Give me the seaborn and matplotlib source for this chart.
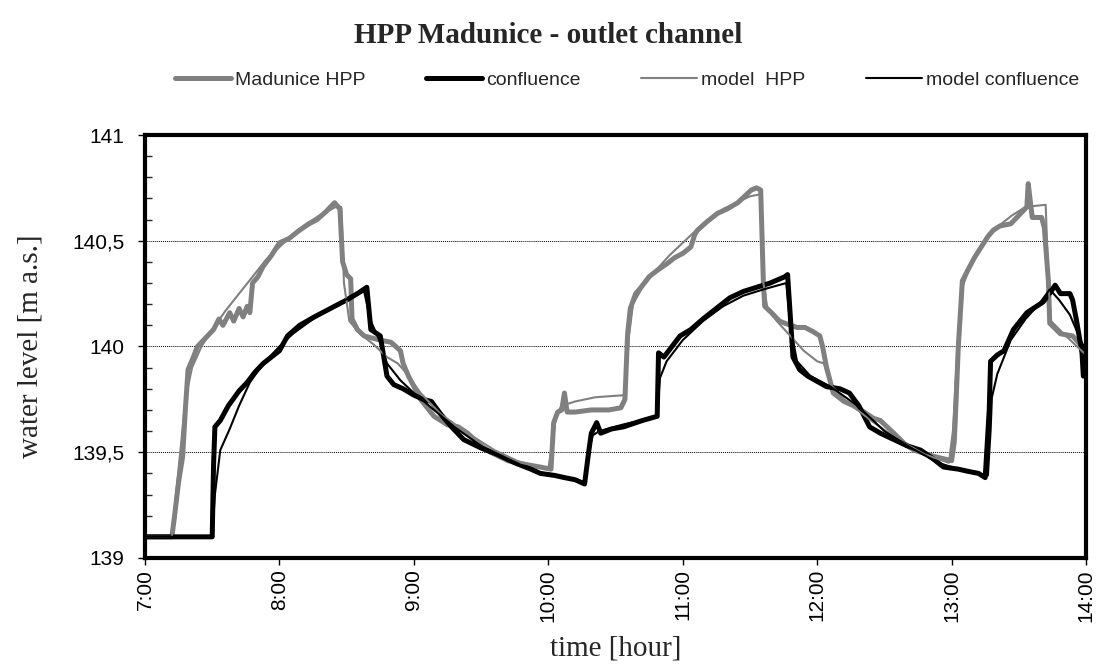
import numpy as np
import pandas as pd
import matplotlib
matplotlib.use("Agg")
import matplotlib.pyplot as plt
import seaborn as sns
from matplotlib.ticker import FuncFormatter, MultipleLocator

# ---------------- data (hours, m a.s.) ----------------
hpp_t = [7.00, 7.20, 7.22, 7.25, 7.28, 7.30, 7.32, 7.36, 7.39, 7.45, 7.51, 7.55, 7.58, 7.63, 7.66, 7.70,
         7.73, 7.76, 7.78, 7.80, 7.84, 7.88, 7.94, 8.00, 8.07, 8.15, 8.22, 8.28, 8.35, 8.41, 8.45, 8.47,
         8.50, 8.53, 8.54, 8.58, 8.63, 8.75, 8.83, 8.90, 8.92, 8.96, 9.05, 9.15, 9.25, 9.33, 9.40, 9.50,
         9.57, 9.70, 9.85, 9.94, 10.02, 10.04, 10.07, 10.10, 10.12, 10.14, 10.20, 10.32, 10.45, 10.54,
         10.57, 10.59, 10.61, 10.65, 10.69, 10.75, 10.81, 10.88, 10.94, 11.00, 11.06, 11.09, 11.11, 11.18,
         11.26, 11.33, 11.41, 11.46, 11.51, 11.55, 11.58, 11.60, 11.61, 11.66, 11.72, 11.76, 11.85, 11.91,
         11.97, 12.02, 12.04, 12.07, 12.12, 12.20, 12.27, 12.35, 12.42, 12.47, 12.57, 12.65, 12.72, 12.87,
         13.00, 13.02, 13.03, 13.05, 13.08, 13.12, 13.17, 13.22, 13.27, 13.31, 13.36, 13.44, 13.50, 13.56,
         13.57, 13.60, 13.67, 13.69, 13.72, 13.73, 13.81, 13.90, 14.00]
hpp_v = [139.10, 139.10, 139.20, 139.36, 139.48, 139.70, 139.89, 139.95, 140.00, 140.04, 140.08, 140.13,
         140.10, 140.16, 140.12, 140.18, 140.14, 140.19, 140.16, 140.30, 140.33, 140.38, 140.43, 140.49,
         140.51, 140.55, 140.58, 140.60, 140.64, 140.68, 140.65, 140.40, 140.34, 140.32, 140.13, 140.08,
         140.05, 140.03, 140.02, 139.98, 139.92, 139.86, 139.75, 139.67, 139.63, 139.62, 139.59, 139.53,
         139.50, 139.46, 139.44, 139.43, 139.42, 139.64, 139.69, 139.70, 139.78, 139.69, 139.69, 139.70,
         139.70, 139.71, 139.75, 140.06, 140.18, 140.25, 140.28, 140.33, 140.36, 140.39, 140.42, 140.44,
         140.47, 140.53, 140.55, 140.59, 140.63, 140.65, 140.68, 140.71, 140.74, 140.75, 140.74, 140.30,
         140.19, 140.16, 140.12, 140.11, 140.09, 140.09, 140.07, 140.05, 140.00, 139.90, 139.78, 139.74,
         139.72, 139.69, 139.66, 139.65, 139.59, 139.54, 139.51, 139.48, 139.46, 139.55, 139.69, 140.00,
         140.31, 140.36, 140.42, 140.47, 140.52, 140.55, 140.57, 140.58, 140.62, 140.66, 140.77, 140.61,
         140.61, 140.56, 140.31, 140.11, 140.06, 140.05, 139.98]

conf_t = [7.00, 7.50, 7.51, 7.52, 7.56, 7.62, 7.70, 7.76, 7.82, 7.88, 7.94, 8.00, 8.06, 8.15, 8.26, 8.38,
          8.50, 8.58, 8.65, 8.68, 8.75, 8.80, 8.85, 8.92, 9.00, 9.07, 9.13, 9.20, 9.28, 9.37, 9.50, 9.62,
          9.75, 9.87, 9.94, 10.05, 10.12, 10.20, 10.27, 10.30, 10.32, 10.36, 10.39, 10.47, 10.56, 10.70,
          10.81, 10.82, 10.86, 10.98, 11.06, 11.15, 11.25, 11.35, 11.45, 11.55, 11.65, 11.76, 11.78, 11.82,
          11.87, 11.93, 12.07, 12.17, 12.24, 12.31, 12.39, 12.47, 12.57, 12.67, 12.77, 12.86, 12.94, 13.05,
          13.12, 13.20, 13.25, 13.28, 13.29, 13.34, 13.39, 13.46, 13.56, 13.68, 13.74, 13.77, 13.81, 13.88,
          13.90, 13.93, 13.97, 13.98]
conf_v = [139.10, 139.10, 139.44, 139.62, 139.65, 139.72, 139.79, 139.83, 139.88, 139.92, 139.95, 139.98,
          140.05, 140.10, 140.14, 140.18, 140.22, 140.25, 140.28, 140.08, 140.05, 139.86, 139.82, 139.80,
          139.77, 139.75, 139.74, 139.68, 139.62, 139.56, 139.52, 139.49, 139.45, 139.42, 139.40, 139.39,
          139.38, 139.37, 139.35, 139.50, 139.59, 139.64, 139.59, 139.61, 139.62, 139.65, 139.67, 139.97,
          139.95, 140.05, 140.08, 140.13, 140.18, 140.23, 140.26, 140.28, 140.30, 140.33, 140.34, 139.95,
          139.89, 139.86, 139.81, 139.80, 139.78, 139.72, 139.62, 139.59, 139.56, 139.53, 139.51, 139.47,
          139.43, 139.42, 139.41, 139.40, 139.38, 139.70, 139.93, 139.96, 139.98, 140.08, 140.16, 140.21,
          140.26, 140.29, 140.25, 140.25, 140.22, 140.12, 139.97, 139.86]

mhpp_t = [7.00, 7.20, 7.23, 7.27, 7.30, 7.35, 7.42, 7.50, 7.60, 7.70, 7.80, 7.90, 8.00, 8.10, 8.20, 8.30,
          8.42, 8.46, 8.48, 8.52, 8.60, 8.70, 8.80, 8.88, 8.95, 9.05, 9.20, 9.40, 9.60, 9.80, 10.00, 10.03,
          10.06, 10.10, 10.20, 10.35, 10.57, 10.60, 10.63, 10.70, 10.80, 10.90, 11.00, 11.10, 11.20, 11.30,
          11.40, 11.50, 11.58, 11.60, 11.63, 11.70, 11.80, 11.90, 12.00, 12.05, 12.10, 12.20, 12.40, 12.60,
          12.80, 12.98, 13.01, 13.04, 13.08, 13.15, 13.25, 13.35, 13.45, 13.55, 13.70, 13.72, 13.74, 13.85,
          14.00]
mhpp_v = [139.10, 139.10, 139.30, 139.55, 139.75, 139.90, 140.00, 140.08, 140.17, 140.25, 140.33, 140.41,
          140.47, 140.53, 140.58, 140.62, 140.66, 140.66, 140.30, 140.12, 140.06, 140.01, 139.95, 139.92,
          139.87, 139.78, 139.68, 139.59, 139.51, 139.45, 139.42, 139.55, 139.68, 139.72, 139.74, 139.76,
          139.77, 140.05, 140.20, 140.28, 140.36, 140.43, 140.49, 140.55, 140.60, 140.65, 140.68, 140.71,
          140.72, 140.30, 140.18, 140.12, 140.05, 139.98, 139.93, 139.92, 139.82, 139.75, 139.65, 139.56,
          139.49, 139.45, 139.60, 139.95, 140.28, 140.40, 140.50, 140.57, 140.62, 140.66, 140.67, 140.30,
          140.12, 140.05, 139.96]

mconf_t = [7.00, 7.50, 7.52, 7.56, 7.63, 7.70, 7.78, 7.88, 8.00, 8.10, 8.25, 8.40, 8.55, 8.63, 8.68, 8.75,
           8.80, 8.90, 9.00, 9.15, 9.30, 9.50, 9.70, 9.90, 10.10, 10.27, 10.30, 10.33, 10.38, 10.55, 10.81,
           10.83, 10.88, 11.00, 11.15, 11.30, 11.45, 11.60, 11.77, 11.80, 11.85, 11.95, 12.10, 12.30, 12.50,
           12.70, 12.90, 13.10, 13.27, 13.29, 13.30, 13.34, 13.44, 13.55, 13.65, 13.73, 13.80, 13.88, 13.96,
           14.00]
mconf_v = [139.10, 139.10, 139.30, 139.51, 139.61, 139.72, 139.83, 139.92, 140.00, 140.06, 140.13, 140.19,
           140.24, 140.26, 140.12, 140.02, 139.92, 139.84, 139.78, 139.70, 139.62, 139.53, 139.46, 139.41,
           139.38, 139.36, 139.50, 139.58, 139.60, 139.63, 139.67, 139.85, 139.93, 140.03, 140.12, 140.19,
           140.24, 140.27, 140.30, 140.10, 139.93, 139.86, 139.81, 139.72, 139.60, 139.52, 139.45, 139.41,
           139.39, 139.60, 139.76, 139.87, 140.03, 140.13, 140.20, 140.27, 140.22, 140.15, 140.03, 139.98]

series_names = ["Madunice HPP", "confluence", "model  HPP", "model confluence"]
x_ticks = [7, 8, 9, 10, 11, 12, 13, 14]
y_ticks = [139, 139.5, 140, 140.5, 141]

# ---------------- figure ----------------
sns.set_theme(style="white")
plt.rcParams["font.family"] = ["Liberation Sans", "DejaVu Sans"]

fig = plt.figure(figsize=(10.96, 6.70), dpi=100)
ax = fig.add_axes([0.1323, 0.1672, 0.8586, 0.6313])

styles = [
    (hpp_t, hpp_v, series_names[0], "#808080", 3.6),
    (conf_t, conf_v, series_names[1], "#000000", 3.6),
    (mhpp_t, mhpp_v, series_names[2], "#808080", 1.5),
    (mconf_t, mconf_v, series_names[3], "#000000", 1.5),
]
for t, v, name, col, lw in styles:
    df = pd.DataFrame({"time": t, "level": v})
    sns.lineplot(data=df, x="time", y="level", ax=ax, color=col, linewidth=lw,
                 label=name, sort=False, estimator=None, solid_joinstyle="round")

ax.set_xlim(7, 14)
ax.set_ylim(139, 141)
ax.set_xticks(x_ticks)
ax.set_yticks(y_ticks)
ax.yaxis.set_minor_locator(MultipleLocator(0.1))
ax.xaxis.set_major_formatter(FuncFormatter(lambda v, p: f"{int(round(v))}:00"))
ax.yaxis.set_major_formatter(FuncFormatter(lambda v, p: (f"{v:g}").replace(".", ",")))

ax.tick_params(axis="both", which="major", direction="out", length=5, width=1,
               colors="black", labelsize=15, labelcolor="black")
ax.tick_params(axis="x", which="major", bottom=True, pad=3, labelrotation=90)
ax.tick_params(axis="y", which="major", left=True, pad=10)
ax.tick_params(axis="y", which="minor", direction="in", length=5, width=1, left=True)

for yv in [139.5, 140, 140.5]:
    ax.axhline(yv, color="black", linestyle=(0, (1, 1)), linewidth=0.7, zorder=0.5)
ax.grid(False)

for sp in ax.spines.values():
    sp.set_linewidth(3.0)
    sp.set_color("black")
    sp.set_visible(True)

ax.set_xlabel("time [hour]", fontsize=21, family=["Liberation Serif"])
ax.set_ylabel("water level [m a.s.]", fontsize=21, family=["Liberation Serif"])
ax.xaxis.set_label_coords(0.5, -0.183)
ax.yaxis.set_label_coords(-0.108, 0.5)

ax.legend_.remove()
handles, labels = ax.get_legend_handles_labels()
fig.legend(handles, labels, loc="center", bbox_to_anchor=(0.572, 0.88), ncol=4, frameon=False,
           fontsize=14, handlelength=2.9, handletextpad=0.2, columnspacing=3.1)

fig.suptitle("HPP Madunice - outlet channel", fontsize=21, fontweight="bold",
             family=["Liberation Serif"], y=0.967)

fig.savefig("out.png", dpi=100)
